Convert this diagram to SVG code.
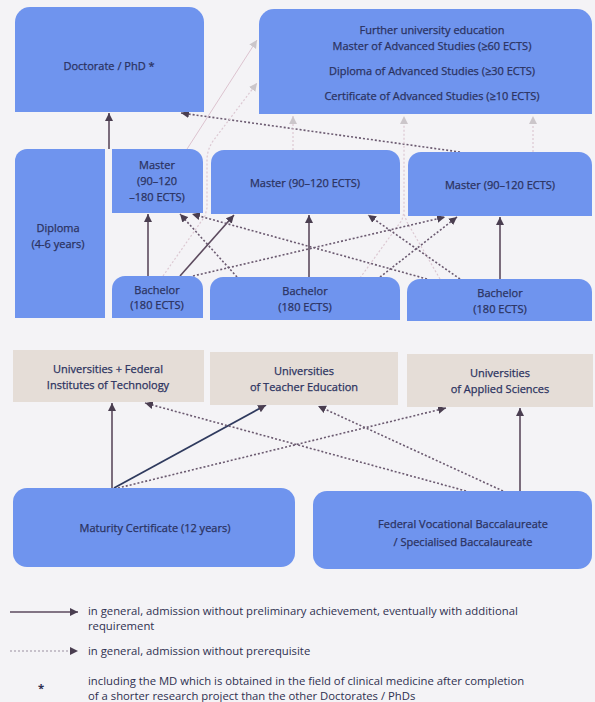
<svg xmlns="http://www.w3.org/2000/svg" width="595" height="702" viewBox="0 0 595 702">
<style>
.bx{fill:#6f94ee}
.bg{fill:#e5ddd7}
.t{font-family:"Open Sans","Liberation Sans",Arial,sans-serif;font-size:11px;font-weight:500;fill:#2b3260;stroke:#2b3260;stroke-width:0.25;text-anchor:middle}
.lg{font-family:"Open Sans","Liberation Sans",Arial,sans-serif;font-size:11.3px;fill:#2e3050}
.s{fill:none;stroke:#5c4a5e;stroke-width:1.6}
.n{fill:none;stroke:#2f3a5e;stroke-width:1.8}
.d{fill:none;stroke:#6b5a70;stroke-width:1.6;stroke-dasharray:2 2}
.l{fill:none;stroke:#dcc3cf;stroke-width:1}
.ld{fill:none;stroke:#dcc8d2;stroke-width:1.2;stroke-dasharray:2 2}
</style>
<defs>
<marker id="ad" markerUnits="userSpaceOnUse" markerWidth="9" markerHeight="9" refX="8" refY="4.5" orient="auto"><path d="M0,0.5 L8,4.5 L0,8.5 Z" fill="#4a3e50"/></marker>
<marker id="al" markerUnits="userSpaceOnUse" markerWidth="9" markerHeight="9" refX="8" refY="4.5" orient="auto"><path d="M0,0.5 L8,4.5 L0,8.5 Z" fill="#cbc6ca"/></marker>
</defs>
<rect width="595" height="702" fill="#f4f3f6"/>
<g id="connectors">
<path class="s" d="M109,149 V113" marker-end="url(#ad)"/>
<path class="d" d="M460,152 L181,113" marker-end="url(#ad)"/>
<path class="l" d="M180,160 L257,40" marker-end="url(#al)"/>
<path class="ld" d="M163,276 L205,216 L207,208 L207,160 Q207,150 213,141 L257,83" marker-end="url(#al)"/>
<path class="ld" d="M293,150 V116" marker-end="url(#al)"/>
<path class="ld" d="M360,278 L402,220 L404,212 V116" marker-end="url(#al)"/>
<path class="ld" d="M440,279 L407,222 L404,214"/>
<path class="ld" d="M533,152 V116" marker-end="url(#al)"/>
<path class="s" d="M148,276 V214" marker-end="url(#ad)"/>
<path class="s" d="M180,276 L234,215" marker-end="url(#ad)"/>
<path class="s" d="M309,277 V215" marker-end="url(#ad)"/>
<path class="s" d="M500,279 V217" marker-end="url(#ad)"/>
<path class="d" d="M193,276 L445,217" marker-end="url(#ad)"/>
<path class="d" d="M237,277 L180,214" marker-end="url(#ad)"/>
<path class="d" d="M427,279 L192,214" marker-end="url(#ad)"/>
<path class="d" d="M460,279 L368,215" marker-end="url(#ad)"/>
<path class="d" d="M380,277 L457,217" marker-end="url(#ad)"/>
<path class="s" d="M112,488 V403" marker-end="url(#ad)"/>
<path class="n" d="M114,488 L266,405" marker-end="url(#ad)"/>
<path class="d" d="M118,488 L446,408" marker-end="url(#ad)"/>
<path class="d" d="M466,491 L145,403" marker-end="url(#ad)"/>
<path class="d" d="M503,491 L318,406" marker-end="url(#ad)"/>
<path class="s" d="M520,491 V408" marker-end="url(#ad)"/>
</g>
<g id="doctorate"><path class="bx" d="M15,112 V22 A15,15 0 0 1 30,7 H189 A15,15 0 0 1 204,22 V112 Z"/><text class="t" x="109" y="70">Doctorate / PhD *</text></g>
<g id="further"><path class="bx" d="M259,114 V24 A15,15 0 0 1 274,9 H577 A15,15 0 0 1 592,24 V114 Z"/>
<text class="t" x="432" y="34">Further university education</text>
<text class="t" x="432" y="50">Master of Advanced Studies (≥60 ECTS)</text>
<text class="t" x="432" y="75">Diploma of Advanced Studies (≥30 ECTS)</text>
<text class="t" x="432" y="100">Certificate of Advanced Studies (≥10 ECTS)</text></g>
<g id="diploma"><path class="bx" d="M15,318 V161 A12,12 0 0 1 27,149 H105 V318 Z"/><text class="t" x="58" y="232">Diploma</text><text class="t" x="58" y="248">(4-6 years)</text></g>
<g id="master1"><path class="bx" d="M112,213 V149 H190 A13,13 0 0 1 203,162 V213 Z"/><text class="t" x="157" y="169">Master</text><text class="t" x="157" y="185">(90–120</text><text class="t" x="157" y="201">–180 ECTS)</text></g>
<g id="master2"><path class="bx" d="M211,214 V163 A13,13 0 0 1 224,150 H387 A13,13 0 0 1 400,163 V214 Z"/><text class="t" x="305" y="187">Master (90–120 ECTS)</text></g>
<g id="master3"><path class="bx" d="M408,216 V165 A13,13 0 0 1 421,152 H579 A13,13 0 0 1 592,165 V216 Z"/><text class="t" x="500" y="189">Master (90–120 ECTS)</text></g>
<g id="bachelor1"><path class="bx" d="M112,318 V289 A13,13 0 0 1 125,276 H190 A13,13 0 0 1 203,289 V318 Z"/><text class="t" x="157" y="294">Bachelor</text><text class="t" x="157" y="309">(180 ECTS)</text></g>
<g id="bachelor2"><path class="bx" d="M210,320 V290 A13,13 0 0 1 223,277 H387 A13,13 0 0 1 400,290 V320 Z"/><text class="t" x="305" y="295">Bachelor</text><text class="t" x="305" y="311">(180 ECTS)</text></g>
<g id="bachelor3"><path class="bx" d="M407,321 V292 A13,13 0 0 1 420,279 H579 A13,13 0 0 1 592,292 V321 Z"/><text class="t" x="500" y="297">Bachelor</text><text class="t" x="500" y="313">(180 ECTS)</text></g>
<g id="uni1"><rect class="bg" x="13" y="350" width="191" height="52"/><text class="t" x="108" y="373">Universities + Federal</text><text class="t" x="108" y="389">Institutes of Technology</text></g>
<g id="uni2"><rect class="bg" x="210" y="352" width="188" height="53"/><text class="t" x="304" y="375">Universities</text><text class="t" x="304" y="391">of Teacher Education</text></g>
<g id="uni3"><rect class="bg" x="407" y="354" width="186" height="53"/><text class="t" x="500" y="377">Universities</text><text class="t" x="500" y="393">of Applied Sciences</text></g>
<g id="maturity"><rect class="bx" x="13" y="488" width="282" height="79" rx="14"/><text class="t" x="155" y="532">Maturity Certificate (12 years)</text></g>
<g id="federal"><rect class="bx" x="313" y="491" width="279" height="78" rx="14"/><text class="t" x="463" y="528">Federal Vocational Baccalaureate</text><text class="t" x="463" y="546">/ Specialised Baccalaureate</text></g>
<g id="legend">
<path class="s" d="M10,612 H78" marker-end="url(#ad)"/>
<path fill="none" stroke="#9a8fa0" stroke-width="1" stroke-dasharray="2 2" d="M10,651 H78" marker-end="url(#ad)"/>
<text class="lg" x="88" y="615">in general, admission without preliminary achievement, eventually with additional</text>
<text class="lg" x="88" y="630">requirement</text>
<text class="lg" x="88" y="655">in general, admission without prerequisite</text>
<text class="lg" x="38" y="692" font-weight="700">*</text>
<text class="lg" x="88" y="685">including the MD which is obtained in the field of clinical medicine after completion</text>
<text class="lg" x="88" y="700">of a shorter research project than the other Doctorates / PhDs</text>
</g>
</svg>
